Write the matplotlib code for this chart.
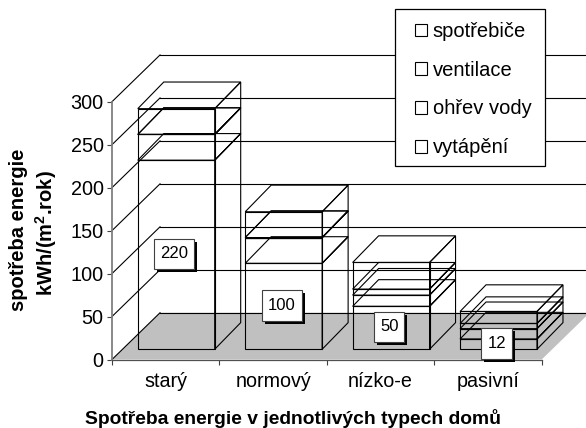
import matplotlib
matplotlib.use("Agg")
import matplotlib.pyplot as plt
from matplotlib.patches import Patch, Polygon, Rectangle
from matplotlib.path import Path
import matplotlib.patheffects as pe

plt.rcParams['font.family'] = ['Liberation Sans', 'DejaVu Sans']
plt.rcParams['mathtext.fontset'] = 'custom'
plt.rcParams['mathtext.bf'] = 'Liberation Sans:bold'
plt.rcParams['mathtext.rm'] = 'Liberation Sans:bold'

categories = ['starý', 'normový', 'nízko-e', 'pasivní']
vytapeni = [220, 100, 50, 12]
ohrev_vody = [30, 30, 13, 12]
ventilace = [0, 0, 7, 6]
spotrebice = [30, 30, 31, 14]
y_ticks = [0, 50, 100, 150, 200, 250, 300]

W, H = 586, 428
# plot box in pixels
AX_L, AX_R, AX_T, AX_B = 112, 541.7, 101.7, 359.5

# 3D look, in data units (x = categories, y = kWh)
WALL_DX, WALL_DY = 0.447, 54.4
BAR_DX, BAR_DY = 0.242, 31.0
BAR_LEFT, BAR_W = 0.24, 0.716
BAR_BASE = 11.9


def label_box(x0, y0, width, height, mutation_size):
    # wider than tall padding, square corners
    px, py = 0.36 * mutation_size, 0.47 * mutation_size
    return Path([(x0 - px, y0 - py), (x0 + width + px, y0 - py),
                 (x0 + width + px, y0 + height + py), (x0 - px, y0 + height + py),
                 (x0 - px, y0 - py)], closed=True)


def draw_layer(ax, x0, y0, y1):
    x1 = x0 + BAR_W
    faces = [
        [(x0, y0), (x1, y0), (x1, y1), (x0, y1)],
        [(x0, y1), (x1, y1), (x1 + BAR_DX, y1 + BAR_DY), (x0 + BAR_DX, y1 + BAR_DY)],
        [(x1, y0), (x1 + BAR_DX, y0 + BAR_DY), (x1 + BAR_DX, y1 + BAR_DY), (x1, y1)],
    ]
    for f in faces:
        ax.add_patch(Polygon(f, closed=True, fill=False, edgecolor='black',
                             linewidth=0.8, clip_on=False, zorder=4))


fig = plt.figure(figsize=(W / 100, H / 100), dpi=100)
ax = fig.add_axes([AX_L / W, 1 - AX_B / H, (AX_R - AX_L) / W, (AX_B - AX_T) / H])
ax.set_xlim(0, len(categories))
ax.set_ylim(0, 300)
ax.patch.set_visible(False)

# floor
floor = [(0, 0), (len(categories), 0),
         (len(categories) + WALL_DX, WALL_DY), (WALL_DX, WALL_DY)]
ax.add_patch(Polygon(floor, closed=True, facecolor='#c0c0c0', edgecolor='none',
                     clip_on=False, zorder=1))

# gridlines on side wall and back wall
for t in y_ticks:
    ax.plot([0, WALL_DX], [t, t + WALL_DY], color='black', lw=0.8,
            clip_on=False, zorder=2)
    ax.plot([WALL_DX, len(categories) + WALL_DX], [t + WALL_DY, t + WALL_DY],
            color='black', lw=0.8, clip_on=False, zorder=2)

# stacked boxes
for i in range(len(categories)):
    x0 = i + BAR_LEFT
    bottom = BAR_BASE
    for series in (vytapeni, ohrev_vody, ventilace, spotrebice):
        draw_layer(ax, x0, bottom, bottom + series[i])
        bottom += series[i]

    # value box on the heating layer
    txt = ax.text(x0 + BAR_W / 2 - 0.018, BAR_BASE + vytapeni[i] / 2 + 1, str(vytapeni[i]),
                  ha='center', va='center', fontsize=12, zorder=6,
                  bbox=dict(boxstyle=label_box, facecolor='white',
                            edgecolor='#404040', linewidth=0.8))
    txt.get_bbox_patch().set_path_effects([
        pe.SimplePatchShadow(offset=(2.2, -2.2), shadow_rgbFace='black', alpha=1.0),
        pe.Normal()])

# axes
for s in ('top', 'right'):
    ax.spines[s].set_visible(False)
ax.spines['left'].set_color('#808080')
ax.spines['left'].set_linewidth(1.3)
ax.spines['bottom'].set_color('#505050')
ax.spines['bottom'].set_linewidth(0.9)
ax.spines['left'].set_zorder(3)
ax.spines['bottom'].set_zorder(3)

ax.set_yticks(y_ticks)
ax.tick_params(axis='y', length=3.5, width=0.8, color='#404040', labelsize=14.3, pad=2.5)
ax.set_xticks(range(len(categories) + 1))
ax.set_xticks([i + 0.5 for i in range(len(categories))], minor=True)
ax.set_xticklabels([''] * (len(categories) + 1))
ax.set_xticklabels(categories, minor=True)
ax.tick_params(axis='x', which='major', length=3.5, width=0.8, color='#404040')
ax.tick_params(axis='x', which='minor', length=0, labelsize=14.2, pad=9)

# texts
fig.text(18.5 / W, 1 - 230 / H, 'spotřeba energie', rotation=90, ha='center', va='center',
         fontsize=14.5, fontweight='bold')
fig.text(46 / W, 1 - 233 / H, r'kWh/(m$^{\mathbf{2}}$.rok)', rotation=90, ha='center',
         va='center', fontsize=14.5, fontweight='bold')
fig.text(293 / W, 1 - 418 / H, 'Spotřeba energie v jednotlivých typech domů',
         ha='center', va='center', fontsize=13.9, fontweight='bold')

# legend box + entries
fig.add_artist(Rectangle((394.7 / W, 1 - 166 / H), 150.6 / W, 156.7 / H,
                         transform=fig.transFigure, facecolor='white',
                         edgecolor='black', linewidth=0.9, zorder=4))
handles = [Patch(facecolor='white', edgecolor='black', linewidth=0.8, label=lab)
           for lab in ('spotřebiče', 'ventilace', 'ohřev vody', 'vytápění')]
leg = fig.legend(handles=handles, loc='upper left',
                 bbox_to_anchor=(414.7 / W, 1 - 22 / H), frameon=False,
                 fontsize=14.5, borderpad=0, borderaxespad=0, labelspacing=0.98,
                 handlelength=0.6, handleheight=0.6, handletextpad=0.3)
leg.set_zorder(5)

fig.savefig('out.png', dpi=100)
